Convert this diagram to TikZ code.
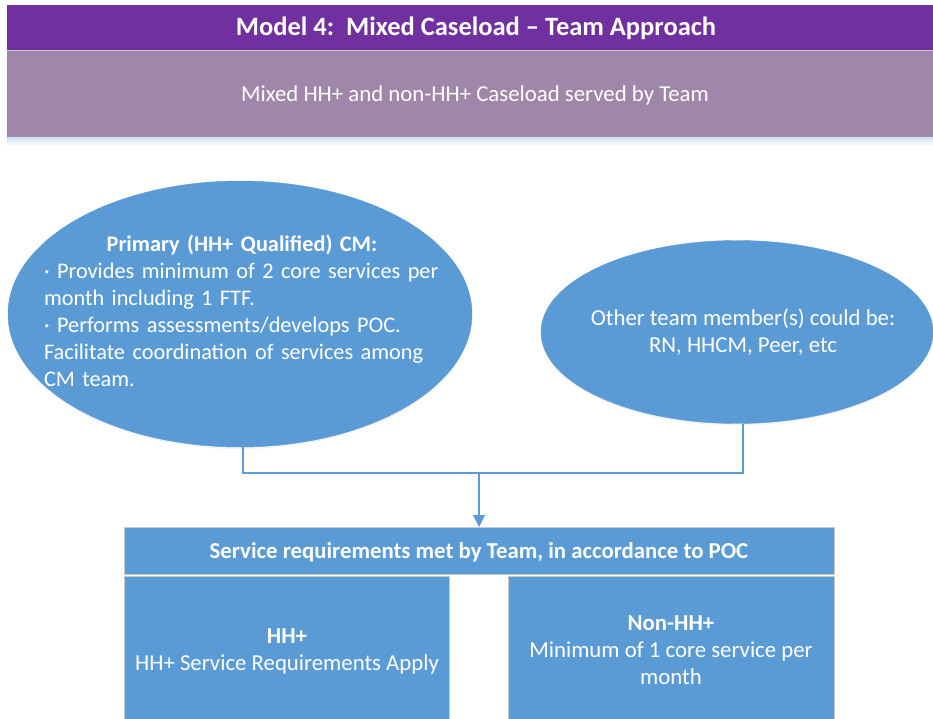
\documentclass[tikz,border=0pt]{standalone}
\usepackage{fontspec}
\setmainfont{Carlito}
\usetikzlibrary{shapes.geometric,shadows,arrows.meta}
\definecolor{ttl}{HTML}{7030A0}
\definecolor{mauve}{HTML}{A086A8}
\definecolor{blu}{HTML}{5B9BD5}
\definecolor{edgegrey}{HTML}{C8C8C8}
\begin{document}
\begin{tikzpicture}[x=1pt,y=-1pt,
  every node/.style={inner sep=0pt, outer sep=0pt, text=white, font=\fontsize{22.8}{27}\selectfont},
  bar/.style={rectangle, anchor=north west},
  oval/.style={ellipse, fill=blu, draw=blu!90!gray, line width=0.4pt,
     drop shadow={shadow xshift=0pt, shadow yshift=-2pt, opacity=0.10, fill=blu!60!gray}},
  boxstyle/.style={rectangle, anchor=north west, fill=blu, draw=edgegrey, line width=0.8pt},
  conn/.style={draw=blu, line width=1.3pt},
  arr/.style={conn, -{Triangle[length=12pt,width=12pt]}}
]
\useasboundingbox (0,0) rectangle (933,719);

% header bars
\node[bar, fill=ttl, minimum width=940pt, minimum height=45pt] (title) at (7,5) {};
\node[font=\fontsize{26.5}{30}\selectfont\bfseries] (titletxt) at (476,28) {Model 4:\ \ Mixed Caseload -- Team Approach};
\shade[top color=blu!30, bottom color=white] (7,137) rectangle (945,146);
\node[bar, fill=mauve, minimum width=940pt, minimum height=87pt] (sub) at (7,50) {};
\node (subtxt) at (475,95) {Mixed HH+ and non-HH+ Caseload served by Team};
\draw[edgegrey, line width=0.6pt] (title.south west) -- (title.south east);

% ellipses
\node[oval, minimum width=464pt, minimum height=266pt] (L) at (240,314) {};
\node[text width=396pt, align=left, font=\fontsize{22.3}{27}\selectfont] (Ltxt) at (242,311) {%
  \makebox[\linewidth][c]{\bfseries Primary (HH+ Qualified) CM:}\\
  · Provides minimum of 2 core services per\\
  month including 1 FTF.\\
  · Performs assessments/develops POC.\\
  Facilitate coordination of services among\\
  CM team.};

\node[oval, minimum width=392pt, minimum height=183pt] (R) at (737,332) {};
\node[align=center] (Rtxt) at (743,332) {Other team member(s) could be:\\RN, HHCM, Peer, etc};

% lower boxes
\node[boxstyle, minimum width=710pt, minimum height=47pt] (svc) at (124,527) {};
\node[font=\fontsize{22.8}{27}\selectfont\bfseries] (svctxt) at (479,552) {Service requirements met by Team, in accordance to POC};
\node[boxstyle, minimum width=325pt, minimum height=150pt] (hh) at (124,576) {};
\node[align=center] (hhtxt) at (287,651) {\textbf{HH+}\\HH+ Service Requirements Apply};
\node[boxstyle, minimum width=326pt, minimum height=150pt] (non) at (508,576) {};
\node[align=center] (nontxt) at (671,650) {\textbf{Non-HH+}\\Minimum of 1 core service per\\month};

% connectors
\coordinate (j) at (479,473);
\draw[conn] ([xshift=3pt]L.south) |- (j);
\draw[conn] ([xshift=6pt]R.south) |- (j);
\draw[arr] (j) -- (svc.north -| j);
\end{tikzpicture}
\end{document}
